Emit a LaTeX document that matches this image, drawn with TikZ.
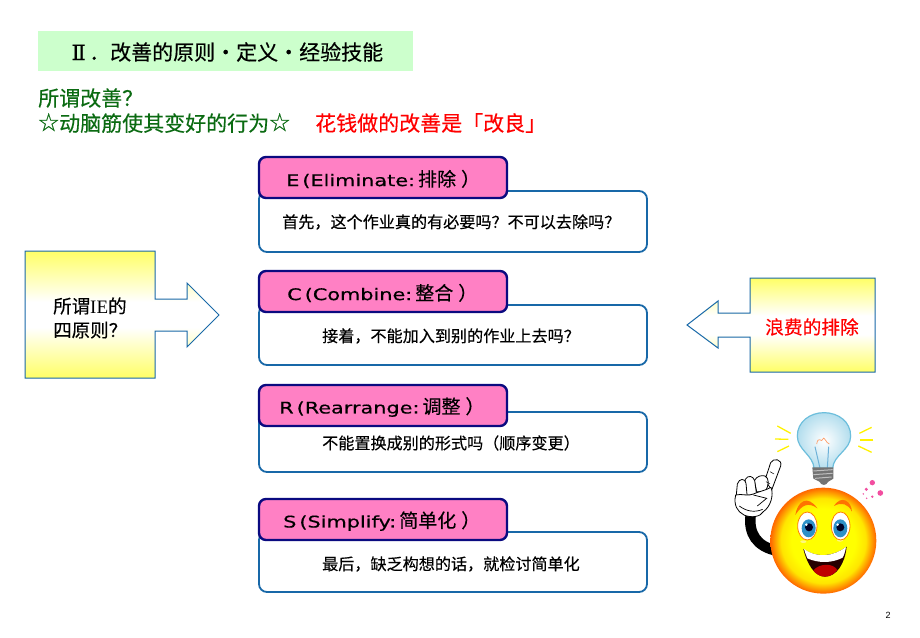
\documentclass[tikz,border=0pt]{standalone}
\usepackage{fontspec}
\setmainfont{Liberation Serif}
\newfontfamily\cjk[FakeBold=0.3]{Noto Sans CJK SC}
\newfontfamily\hdrlat[FakeStretch=1.3,FakeBold=0.4]{DejaVu Sans}
\newfontfamily\pagenum{Liberation Sans}
\newfontfamily\symfont[FakeBold=0.5]{DejaVu Sans}
\newfontfamily\romfont[FakeBold=0.2]{DejaVu Serif}
\definecolor{titlegreen}{HTML}{CCFFCC}
\definecolor{darkgreen}{HTML}{0B6B12}
\definecolor{boxblue}{HTML}{1868A8}
\definecolor{navyline}{HTML}{0A0A80}
\definecolor{headpink}{HTML}{FF80C4}
\definecolor{softyellow}{HTML}{FFFF66}
\definecolor{bulbedge}{HTML}{6CBEDC}
\definecolor{bulbfill}{HTML}{B4DEEE}
\definecolor{irisblue}{HTML}{2E90C8}
\pgfdeclareverticalshading{calloutshade}{100bp}{color(0bp)=(softyellow); color(25bp)=(softyellow); color(45bp)=(white); color(55bp)=(white); color(75bp)=(softyellow); color(100bp)=(softyellow)}
\pgfdeclareradialshading{faceshade}{\pgfpoint{0bp}{0bp}}{color(0bp)=(yellow); color(15bp)=(yellow); color(20bp)=(yellow!80!orange); color(24bp)=(orange); color(25bp)=(orange!80!red); color(50bp)=(orange!80!red)}
\newcommand{\hdrtext}[2]{{\hdrlat\fontsize{16}{18}\selectfont #1\hspace{3pt}(#2}}
\newcommand{\hdrtail}[1]{\hspace{3pt}{\cjk\fontsize{19}{20}\selectfont #1\hspace{5pt}）}}
\tikzset{
  bodybox/.style={draw=boxblue,line width=1.8pt,rounded corners=8pt,fill=white},
  headbox/.style={draw=navyline,line width=2.4pt,rounded corners=7pt,fill=headpink},
  headtext/.style={anchor=west,inner sep=0pt,text=black},
  bodytext/.style={anchor=west,inner sep=0pt,font=\cjk\fontsize{16.1}{18}\selectfont,text=black},
  bigtext/.style={anchor=west,inner sep=0pt,font=\cjk\fontsize{21}{24}\selectfont},
  callout/.style={draw=boxblue,line width=1pt,shading=calloutshade},
  ray/.style={draw=yellow,line width=1.3pt},
  hand/.style={draw=black,line width=0.8pt,fill=white,line join=round},
}
\begin{document}
\begin{tikzpicture}[x=1pt,y=-1pt]
\useasboundingbox (0,0) rectangle (920,637);
\fill[white] (0,0) rectangle (920,637);
% title
\node[fill=titlegreen,minimum width=375pt,minimum height=40pt,inner sep=0pt,anchor=north west] (title) at (38,31) {};
\node[anchor=west,inner sep=0pt,font=\cjk\fontsize{21}{24}\selectfont] (titletext) at (68,52) {\makebox[21pt]{\romfont Ⅱ}．改善的原则・定义・经验技能};
\node[bigtext,text=darkgreen] (q) at (38,98) {所谓改善？};
\node[bigtext,text=darkgreen] (act) at (38,123) {\makebox[21pt]{\symfont\fontsize{25}{24}\selectfont ☆}动脑筋使其变好的行为\makebox[21pt]{\symfont\fontsize{25}{24}\selectfont ☆}};
\node[bigtext,text=red] (cost) at (315,123) {花钱做的改善是「改良」};
% rows
\draw[bodybox] (259,191) rectangle (647,252);
\node[bodytext] (b1) at (282,222) {首先，这个作业真的有必要吗？不可以去除吗？};
\draw[headbox] (259,157) rectangle (507,198);
\node[headtext] (h1) at (286,179) {\hdrtext{E}{Eliminate:}\hdrtail{排除}};
\draw[bodybox] (259,305) rectangle (647,365);
\node[bodytext] (b2) at (322,336) {接着，不能加入到别的作业上去吗？};
\draw[headbox] (259,271) rectangle (507,312);
\node[headtext] (h2) at (287,293) {\hdrtext{C}{Combine:}\hdrtail{整合}};
\draw[bodybox] (259,412) rectangle (647,472);
\node[bodytext] (b3) at (322,443) {不能置换成别的形式吗（顺序变更）};
\draw[headbox] (259,385) rectangle (507,426);
\node[headtext] (h3) at (279,407) {\hdrtext{R}{Rearrange:}\hdrtail{调整}};
\draw[bodybox] (259,532) rectangle (647,592);
\node[bodytext] (b4) at (322,564) {最后，缺乏构想的话，就检讨简单化};
\draw[headbox] (259,499) rectangle (507,540);
\node[headtext] (h4) at (283,521) {\hdrtext{S}{Simplify:}\hdrtail{简单化}};
% left callout
\draw[callout] (25,251) -- (155,251) -- (155,299) -- (187,299) -- (187,283) -- (219,315) -- (187,347) -- (187,331) -- (155,331) -- (155,378) -- (25,378) -- cycle;
\node[anchor=west,inner sep=0pt,align=left,font=\cjk\fontsize{18.5}{24}\selectfont] (ltext) at (53,318) {所谓{\rmfamily\fontsize{19}{24}\selectfont IE}的\\四原则？};
% right callout
\draw[callout] (875,278) -- (875,372) -- (750,372) -- (750,337) -- (718,337) -- (718,348) -- (687,325) -- (718,301) -- (718,313) -- (750,313) -- (750,278) -- cycle;
\node[anchor=center,inner sep=0pt,text=red,font=\cjk\fontsize{18.7}{22}\selectfont] (rtext) at (812,327) {浪费的排除};
% page number
\node[inner sep=0pt,font=\pagenum\fontsize{9}{10}\selectfont] (pg) at (888,615) {2};
% cartoon
\begin{scope}[shift={(720,400)},x=0.3333pt,y=-0.3333pt]
  % rays
  \draw[ray] (172,78) -- (212,100); \draw[ray] (165,117) -- (205,118); \draw[ray] (172,155) -- (207,138);
  \draw[ray] (455,82) -- (418,100); \draw[ray] (460,120) -- (420,120); \draw[ray] (455,157) -- (415,138);
  % bulb
  \shade[inner color=white,outer color=bulbfill,draw=bulbedge,line width=1.2pt]
    (282,205) .. controls (280,165) and (232,150) .. (232,108) .. controls (232,65) and (270,38) .. (312,38)
    .. controls (355,38) and (392,65) .. (392,108) .. controls (392,150) and (340,165) .. (338,205) -- cycle;
  \draw[irisblue!70,line width=1pt] (300,205) -- (285,140) (322,205) -- (326,140);
  \draw[orange!70!red!60,line width=.7pt] (290,132) .. controls (295,105) and (305,130) .. (308,118) .. controls (312,105) and (318,130) .. (328,132);
  \fill[black!55] (277,202) -- (340,202) -- (340,236) -- (325,245) .. controls (318,258) and (305,258) .. (298,245) -- (280,236) -- cycle;
  \draw[black!25,line width=1pt] (280,213) -- (338,209) (280,224) -- (338,220) (285,235) -- (335,231);
  % pink dots
  \fill[magenta!60!pink] (457,248) circle (8) (481,279) circle (8.5) (439,268) circle (5) (457,290) circle (4) (430,282) circle (2.5) (440,295) circle (2.5);
  % arm
  \draw[black,line width=10.5pt] (92,345) .. controls (85,400) and (110,440) .. (170,452);
  % hand
  \draw[hand] (135,240) -- (152,188) .. controls (160,172) and (188,178) .. (182,198) -- (155,270) -- cycle;
  \draw[hand] (135,228) .. controls (148,235) and (148,255) .. (135,275) -- (110,275) -- (103,242) .. controls (110,228) and (125,225) .. (135,228) -- cycle;
  \draw[hand] (76,238) .. controls (84,224) and (100,228) .. (104,242) -- (110,285) -- (76,285) -- cycle;
  \draw[hand] (52,252) .. controls (58,234) and (75,234) .. (78,250) -- (82,295) -- (48,295) -- cycle;
  \draw[hand] (47,285) .. controls (40,315) and (52,335) .. (72,345) .. controls (95,355) and (122,350) .. (130,335) .. controls (152,320) and (162,285) .. (153,262) .. controls (135,272) and (115,275) .. (100,282) .. controls (85,290) and (65,280) .. (47,285) -- cycle;
  \draw[black,line width=.7pt] (58,318) .. controls (80,335) and (105,338) .. (128,328) (100,285) -- (140,295) -- (112,318);
  \draw[black,line width=.5pt] (150,215) -- (162,222) (138,245) -- (150,252);
  % face
  \shade[shading=faceshade] (310,422) circle (159);
  % cheeks
  \fill[white!50!yellow] (250,425) ellipse (9 and 4);
  \fill[white!50!yellow] (360,421) ellipse (9 and 4);
  % brows
  \fill[orange!90!red] (226,345) .. controls (232,305) and (262,282) .. (292,325) .. controls (265,305) and (245,315) .. (226,345) -- cycle;
  \fill[orange!90!red] (396,335) .. controls (395,305) and (365,282) .. (342,318) .. controls (365,305) and (385,312) .. (396,335) -- cycle;
  % eyes
  \draw[orange,line width=.8pt,fill=white] (262,378) ellipse (29 and 42);
  \draw[orange,line width=.8pt,fill=white] (362,378) ellipse (28 and 42);
  \fill[irisblue] (266,385) ellipse (21 and 27);
  \fill[irisblue] (361,385) ellipse (21 and 27);
  \fill[black!85!blue] (267,382) circle (12);
  \fill[black!85!blue] (361,382) circle (12);
  \fill[white] (259,374) circle (4);
  \fill[white] (353,374) circle (4);
  % mouth
  \fill[black!85!red] (250,447) .. controls (290,475) and (340,470) .. (380,440) .. controls (375,490) and (350,530) .. (315,530) .. controls (285,530) and (262,495) .. (250,447) -- cycle;
  \fill[white] (252,447) .. controls (290,475) and (340,470) .. (378,441) .. controls (376,455) and (372,465) .. (368,473) .. controls (335,490) and (295,490) .. (262,475) .. controls (258,465) and (255,457) .. (252,447) -- cycle;
  \fill[red!75!black] (280,512) .. controls (295,490) and (340,488) .. (352,510) .. controls (340,526) and (325,530) .. (315,530) .. controls (302,530) and (290,524) .. (280,512) -- cycle;
\end{scope}
\end{tikzpicture}
\end{document}
